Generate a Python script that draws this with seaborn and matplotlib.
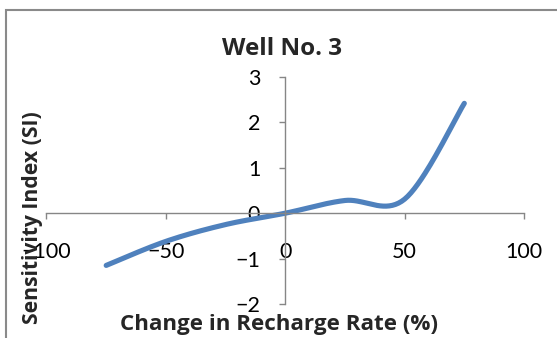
import numpy as np
import pandas as pd
import seaborn as sns
import matplotlib.pyplot as plt
from matplotlib.patches import Rectangle

sns.set_theme(style="white")
plt.rcParams['font.family'] = ['Lato', 'DejaVu Sans']

# Sensitivity of well No. 3 to changes in recharge rate
recharge_change = [-75, -50, -25, 0, 25, 50, 75]
sensitivity = [-1.15, -0.62, -0.25, 0.0, 0.28, 0.31, 2.42]
x_ticks = [-100, -50, 0, 50, 100]
y_ticks = [-2, -1, 0, 1, 2, 3]


def smooth_curve(xs, ys, n=40):
    """Cubic Bezier smoothing through every point (spreadsheet-style smoothed line)."""
    pts = np.column_stack([xs, ys]).astype(float)
    padded = np.vstack([pts[0], pts, pts[-1]])
    out = []
    t = np.linspace(0, 1, n)[:, None]
    for i in range(len(pts) - 1):
        p0, p1, p2, p3 = padded[i:i + 4]
        c1 = p1 + (p2 - p0) / 6
        c2 = p2 - (p3 - p1) / 6
        seg = ((1 - t) ** 3 * p1 + 3 * (1 - t) ** 2 * t * c1
               + 3 * (1 - t) * t ** 2 * c2 + t ** 3 * p2)
        out.append(seg if i == 0 else seg[1:])
    return np.vstack(out)


curve = smooth_curve(recharge_change, sensitivity)
df = pd.DataFrame({"change": curve[:, 0], "si": curve[:, 1]})

W, H = 557, 338
fig = plt.figure(figsize=(W / 100, H / 100), dpi=100)
fig.patch.set_facecolor("white")

x0, x1 = 46.5, 524.0
ytop, ybot = 77.0, 304.0
ax = fig.add_axes([x0 / W, 1 - ybot / H, (x1 - x0) / W, (ybot - ytop) / H])
ax.set_facecolor("none")

sns.lineplot(data=df, x="change", y="si", sort=False, ax=ax,
             color="#4F81BD", linewidth=3.7, solid_capstyle="round")

ax.set_xlim(-100, 100)
ax.set_ylim(-2, 3)
ax.set_xticks(x_ticks)
ax.set_yticks(y_ticks)
ax.set_xlabel("")
ax.set_ylabel("")

axis_grey = "#868686"
for side in ("top", "right"):
    ax.spines[side].set_visible(False)
for side in ("left", "bottom"):
    ax.spines[side].set_position(("data", 0))
    ax.spines[side].set_color(axis_grey)
    ax.spines[side].set_linewidth(1.0)

ax.tick_params(axis="both", which="major", direction="out", length=4,
               width=1.0, color=axis_grey, labelsize=15.5, labelcolor="black")
ax.tick_params(axis="x", pad=17, bottom=True)
ax.tick_params(axis="y", pad=14, left=True)

bold = dict(family=["Open Sans", "DejaVu Sans"], fontweight="bold")
fig.text(282 / W, 1 - 49 / H, "Well No. 3", ha="center", va="center",
         fontsize=17.5, **bold)
fig.text(278.5 / W, 1 - 330 / H, "Change in Recharge Rate (%)", ha="center",
         va="baseline", fontsize=16.1, **bold)
fig.text(33 / W, 1 - 218 / H, "Sensitivity Index (SI)", ha="center",
         va="center", rotation=90, fontsize=15.2, **bold)

# chart-area border
fig.add_artist(Rectangle((6 / W, -0.5), 2.0, 0.5 + 1 - 9.5 / H,
                         transform=fig.transFigure, fill=False,
                         edgecolor="#8a8a8a", linewidth=1.5))

fig.savefig("out.png", dpi=100)
